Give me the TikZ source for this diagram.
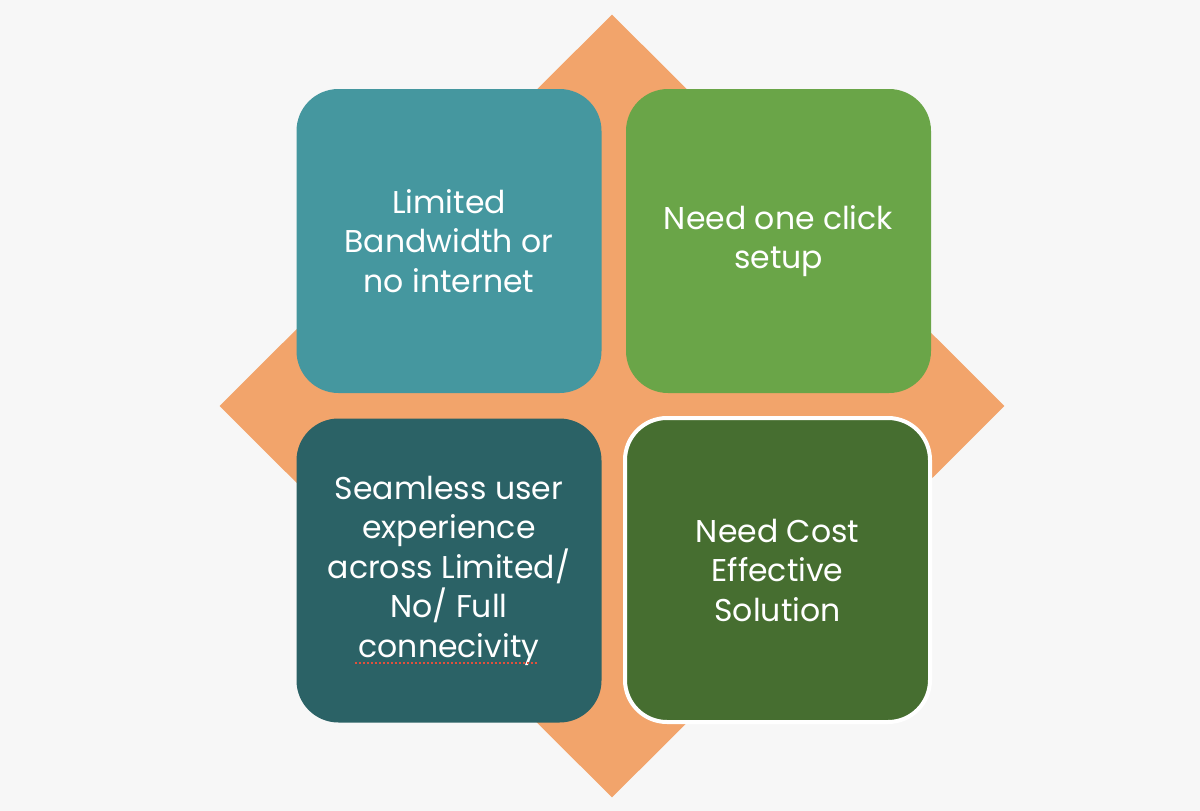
\documentclass[tikz,border=0pt]{standalone}
\usepackage{fontspec}
\setmainfont{Poppins}
\usetikzlibrary{shapes.geometric}
\definecolor{paper}{HTML}{F7F7F7}
\definecolor{orangeback}{HTML}{F2A46B}
\definecolor{tealbox}{HTML}{45979F}
\definecolor{greenbox}{HTML}{6AA548}
\definecolor{darktealbox}{HTML}{2B6266}
\definecolor{darkgreenbox}{HTML}{466E30}
\definecolor{spellred}{HTML}{E0503C}
\begin{document}
\begin{tikzpicture}[x=1pt,y=-1pt,
    card/.style={rectangle, rounded corners=42pt, minimum width=305pt,
      minimum height=304pt, inner sep=0pt, text=white, align=center,
      font=\fontsize{31.5}{39.5}\selectfont},
    squiggle/.style={draw=spellred, line width=2pt, dash pattern=on 2pt off 2pt}]
  \useasboundingbox[fill=paper] (0,0) rectangle (1200,811);
  % orange diamond behind the cards
  \node[diamond, aspect=1, fill=orangeback, inner sep=0pt,
    minimum width=785pt, minimum height=783pt] (back) at (612,406) {};
  % the four cards
  \node[card, fill=tealbox] (tl) at (449,241)
    {Limited\\Bandwidth or\\no internet};
  \node[card, fill=greenbox] (tr) at (778.5,241)
    {Need one click\\setup};
  \node[card, fill=darktealbox] (bl) at (449,570.5)
    {Seamless user\\experience\\across Limited/\\No/ Full\\connecivity};
  \node[card, fill=darkgreenbox, draw=white, line width=4pt] (br) at (777.5,570)
    {Need Cost\\Effective\\Solution};
  \draw[squiggle] (355,663) -- (538,663);
\end{tikzpicture}
\end{document}
